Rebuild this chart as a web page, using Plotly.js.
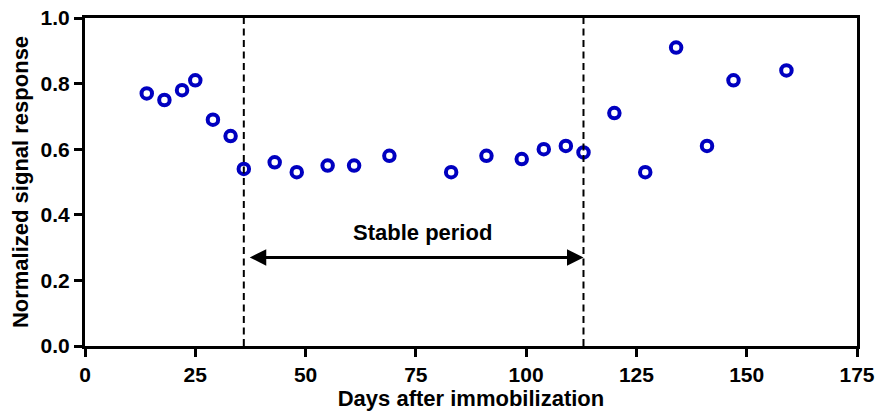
<!DOCTYPE html>
<html>
<head>
<meta charset="utf-8">
<script src="https://cdn.plot.ly/plotly-3.0.1.min.js"></script>
<style>
  html, body { margin: 0; padding: 0; background: #fff; }
  #chart { width: 879px; height: 413px; }
</style>
</head>
<body>
<div id="chart"></div>
<script>
// Days after immobilization at which each measurement was taken
const days = [14, 18, 22, 25, 29, 33, 36, 43, 48, 55, 61, 69, 83, 91, 99, 104, 109, 113, 120, 127, 134, 141, 147, 159];
// Normalized signal response per measurement
const response = [0.77, 0.75, 0.78, 0.81, 0.69, 0.64, 0.54, 0.56, 0.53, 0.55, 0.55, 0.58, 0.53, 0.58, 0.57, 0.60, 0.61, 0.59, 0.71, 0.53, 0.91, 0.61, 0.81, 0.84];

// Bounds of the stable period (days)
const stableStart = 36;
const stableEnd = 113;

const xTicks = [0, 25, 50, 75, 100, 125, 150, 175];
const yTicks = [0.0, 0.2, 0.4, 0.6, 0.8, 1.0];
const yTickText = ['0.0', '0.2', '0.4', '0.6', '0.8', '1.0'];

const FONT = '"Liberation Sans", Arial, sans-serif';

const trace = {
  x: days,
  y: response,
  type: 'scatter',
  mode: 'markers',
  marker: {
    symbol: 'circle-open',
    size: 10.5,
    color: '#0000c0',
    line: { width: 4, color: '#0000c0' }
  },
  hoverinfo: 'x+y',
  showlegend: false
};

const axisCommon = {
  showline: true,
  linecolor: '#000',
  linewidth: 3,
  mirror: true,
  ticks: 'outside',
  ticklen: 8,
  tickwidth: 3,
  tickcolor: '#000',
  showgrid: false,
  zeroline: false,
  tickfont: { family: FONT, size: 21, color: '#000', weight: 'bold' }
};

const layout = {
  width: 879,
  height: 413,
  margin: { l: 85, r: 22, t: 18, b: 67 },
  paper_bgcolor: '#fff',
  plot_bgcolor: '#fff',
  font: { family: FONT, color: '#000' },
  xaxis: Object.assign({}, axisCommon, {
    range: [0, 175],
    tickvals: xTicks,
    title: { text: '<b>Days after immobilization</b>', font: { family: FONT, size: 22, color: '#000' }, standoff: 4 }
  }),
  yaxis: Object.assign({}, axisCommon, {
    range: [0, 1],
    tickvals: yTicks,
    ticktext: yTickText,
    title: { text: '<b>Normalized signal response</b>', font: { family: FONT, size: 22, color: '#000' }, standoff: 6 }
  }),
  shapes: [stableStart, stableEnd].map(d => ({
    type: 'line',
    xref: 'x', yref: 'paper',
    x0: d, x1: d, y0: 0, y1: 1,
    line: { color: '#000', width: 2, dash: '7px,4.5px' }
  })),
  annotations: [
    {
      // double-headed arrow spanning the stable period
      x: stableEnd, y: 0.27,
      ax: stableStart + 1, ay: 0.27,
      xref: 'x', yref: 'y', axref: 'x', ayref: 'y',
      text: '',
      showarrow: true,
      arrowside: 'end+start',
      arrowhead: 2,
      startarrowhead: 2,
      arrowsize: 1.1,
      startarrowsize: 1.1,
      arrowwidth: 3,
      arrowcolor: '#000',
      standoff: 0,
      startstandoff: 0
    },
    {
      x: 76.4, y: 0.345,
      xref: 'x', yref: 'y',
      text: '<b>Stable period</b>',
      showarrow: false,
      font: { family: FONT, size: 22, color: '#000' }
    }
  ]
};

Plotly.newPlot('chart', [trace], layout, { displayModeBar: false, staticPlot: true });
</script>
</body>
</html>
